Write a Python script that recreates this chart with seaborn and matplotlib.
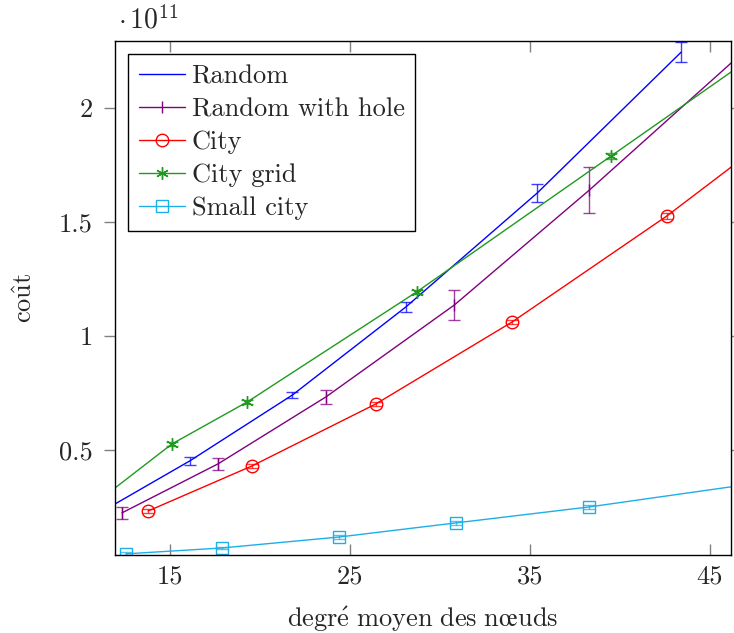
import matplotlib
matplotlib.use('Agg')
import matplotlib.pyplot as plt
import seaborn as sns
import pandas as pd

# valeurs en unités de 1e11
random_x = [11.0, 16.1, 21.8, 28.1, 35.4, 43.4]
random_y = [0.22, 0.452, 0.741, 1.127, 1.627, 2.245]
random_err = [0.015, 0.016, 0.013, 0.02, 0.04, 0.045]

hole_x = [12.33, 17.67, 23.67, 30.8, 38.3, 47.5]
hole_y = [0.224, 0.439, 0.733, 1.136, 1.64, 2.291]
hole_err = [0.025, 0.027, 0.032, 0.066, 0.1, 0.12]

city_x = [13.78, 19.56, 26.44, 34.0, 42.6, 52.0]
city_y = [0.232, 0.43, 0.702, 1.061, 1.526, 2.09]
city_err = [0.01, 0.01, 0.01, 0.01, 0.012, 0.012]

grid_x = [10.5, 15.1, 19.3, 28.7, 39.5, 52.0]
grid_y = [0.245, 0.526, 0.711, 1.193, 1.789, 2.48]
grid_err = [0.01, 0.008, 0.008, 0.01, 0.014, 0.015]

small_x = [12.55, 17.9, 24.4, 30.9, 38.3, 47.5]
small_y = [0.044, 0.07, 0.118, 0.18, 0.25, 0.353]
small_err = [0.006, 0.006, 0.008, 0.008, 0.01, 0.01]

x_ticks = [15, 25, 35, 45]
y_ticks = [0.5, 1, 1.5, 2]
y_tick_labels = ['0.5', '1', '1.5', '2']

series = [
    ('Random', random_x, random_y, random_err, '#0000ff', None),
    ('Random with hole', hole_x, hole_y, hole_err, '#800080', '|'),
    ('City', city_x, city_y, city_err, '#ff0000', 'o'),
    ('City grid', grid_x, grid_y, grid_err, '#1f9a1f', (6, 2, 0)),
    ('Small city', small_x, small_y, small_err, '#1eaee8', 's'),
]
marker_sizes = {'|': 8, 'o': 9, 's': 8}

sns.set_theme(style='white')
plt.rcParams['font.family'] = ['cmr10', 'DejaVu Serif']
plt.rcParams['mathtext.fontset'] = 'cm'
plt.rcParams['axes.formatter.use_mathtext'] = True

FS = 19

fig = plt.figure(figsize=(7.34, 6.33), dpi=100)
ax = fig.add_axes([115 / 734, 1 - 555 / 633, (731 - 115) / 734, (555 - 41) / 633])

for name, xs, ys, errs, color, marker in series:
    df = pd.DataFrame({'x': xs, 'y': ys})
    kw = {}
    if marker is not None:
        kw = dict(marker=marker, markersize=marker_sizes.get(marker, 9),
                  markerfacecolor='none' if marker in ('o', 's') else color,
                  markeredgecolor=color, markeredgewidth=1.0)
    sns.lineplot(data=df, x='x', y='y', ax=ax, color=color, linewidth=1.0,
                 label=name, sort=False, **kw)
    ax.errorbar(xs, ys, yerr=errs, fmt='none', ecolor=color, elinewidth=1.0,
                capsize=4, capthick=1.0, alpha=0.75)

ax.set_xlim(11.94, 46.17)
ax.set_ylim(0.039, 2.294)
ax.set_xticks(x_ticks)
ax.set_xticklabels([str(t) for t in x_ticks])
ax.set_yticks(y_ticks)
ax.set_yticklabels(y_tick_labels)

for s in ax.spines.values():
    s.set_color('black')
    s.set_linewidth(1.0)

ax.tick_params(axis='x', direction='in', top=True, bottom=True, length=8,
               width=1, color='#808080', labelsize=FS, pad=7)
ax.tick_params(axis='y', direction='out', left=True, right=True, length=8,
               width=1, color='#808080', labelsize=FS, pad=8)

ax.set_xlabel(r'$\mathrm{degr\acute{e}\ moyen\ des\ n\oe uds}$', fontsize=FS, labelpad=12)
ax.set_ylabel(r'$\mathrm{co\hat{u}t}$', fontsize=FS, labelpad=16)
ax.text(0.005, 1.012, r'$\cdot\,10^{11}$', transform=ax.transAxes, fontsize=FS + 1,
        ha='left', va='bottom')

leg = ax.legend(loc='upper left', fontsize=FS, frameon=True, fancybox=False,
                edgecolor='black', framealpha=1, handlelength=1.75,
                handletextpad=0.25, labelspacing=0.35, borderaxespad=0.5,
                borderpad=0.4)
leg.get_frame().set_linewidth(1.0)

fig.savefig('out.png', dpi=100)
